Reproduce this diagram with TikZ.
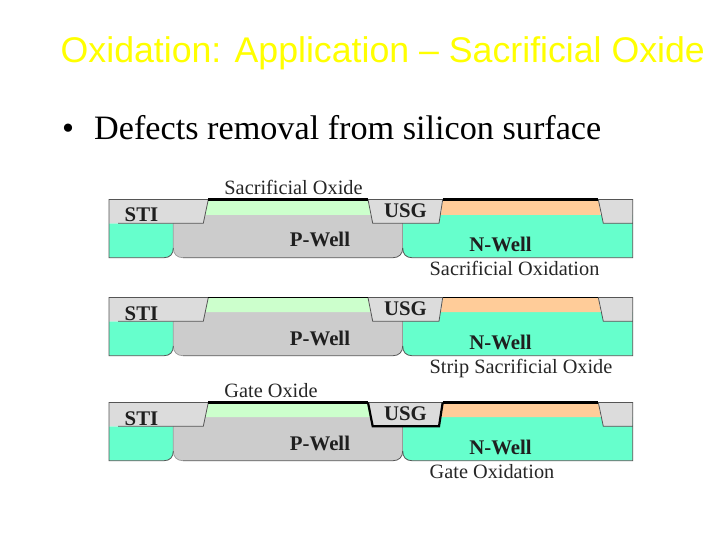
\documentclass[tikz,border=0pt]{standalone}
\usepackage{fontspec}
\setmainfont{Liberation Serif}
\newfontfamily\titlefont{Liberation Sans}
\definecolor{stigray}{HTML}{DCDCDC}
\definecolor{pwellgray}{HTML}{CCCCCC}
\definecolor{nwellgreen}{HTML}{66FFCC}
\definecolor{pchan}{HTML}{CCFFCC}
\definecolor{nchan}{HTML}{FFCC99}
\definecolor{edgegray}{HTML}{555555}
\definecolor{softedge}{HTML}{999999}
\tikzset{
  edgeline/.style={draw=edgegray,line width=0.8pt},
  softline/.style={draw=softedge,line width=0.7pt},
  oxideline/.style={draw=black,line width=2.2pt},
  wellfont/.style={font=\fontsize{20.8}{24}\selectfont\bfseries,inner sep=0pt,anchor=base,text=black!88},
  notefont/.style={font=\fontsize{20.3}{24}\selectfont,inner sep=0pt,anchor=base,text=black!85},
}
\newcommand{\crosssection}[3]{%
\begin{scope}[yshift=-#1pt]
  % wells
  \path[fill=nwellgreen] (109,223.3) -- (173.3,223.3) -- (173.3,248) .. controls (173.3,254) and (170,257.7) .. (164,257.7) -- (109,257.7) -- cycle;
  \path[fill=pwellgray] (173.3,#2) -- (402.7,#2) -- (402.7,248) .. controls (402.7,254) and (399,257.7) .. (393,257.7) -- (183,257.7) .. controls (177,257.7) and (173.3,254) .. (173.3,248) -- cycle;
  \path[fill=nwellgreen] (402.7,#2) -- (632.7,#2) -- (632.7,257.7) -- (412,257.7) .. controls (406,257.7) and (402.7,254) .. (402.7,248) -- cycle;
  % channels
  \path[fill=pchan] (208.3,199.5) -- (368,199.5) -- (370.5,#2) -- (205.5,#2) -- cycle;
  \path[fill=nchan] (442.7,199.5) -- (598.3,199.5) -- (600.5,#2) -- (441,#2) -- cycle;
  % STI
  \path[fill=stigray] (109,199.5) -- (208.3,199.5) -- (203.3,223.3) -- (109,223.3) -- cycle;
  \path[fill=stigray] (368,199.5) -- (442.7,199.5) -- (439,223.3) -- (372.7,223.3) -- cycle;
  \path[fill=stigray] (598.3,199.5) -- (632.7,199.5) -- (632.7,223.3) -- (603.3,223.3) -- cycle;
  % outlines
  \draw[softline] (173.3,223.3) -- (173.3,248) .. controls (173.3,254) and (177,257.7) .. (183,257.7);
  \draw[softline] (402.7,223.3) -- (402.7,248);
  \draw[edgeline] (208.3,199.5) -- (109,199.5) -- (109,257.7) -- (164,257.7) .. controls (170,257.7) and (173.3,254) .. (173.3,248);
  \draw[edgeline] (118,223.3) -- (203.3,223.3) -- (208.3,199.5);
  \draw[edgeline] (183,257.7) -- (393,257.7) .. controls (399,257.7) and (402.7,254) .. (402.7,248);
  \draw[edgeline] (402.7,248) .. controls (402.7,254) and (406,257.7) .. (412,257.7) -- (632.7,257.7) -- (632.7,199.5) -- (598.3,199.5) -- (603.3,223.3) -- (632.7,223.3);
  \draw[edgeline] (368,199.5) -- (372.7,223.3) -- (439,223.3) -- (442.7,199.5) -- cycle;
  \draw[draw=black,line width=0.6pt] (208.3,199.5) -- (368,199.5) (442.7,199.5) -- (598.3,199.5);
  % well and isolation labels
  \node[wellfont] (sti#3) at (141.5,222) {STI};
  \node[wellfont] (pw#3) at (320,247) {P-Well};
  \node[wellfont] (usg#3) at (405.5,217.7) {USG};
  \node[wellfont] (nw#3) at (500.5,251.7) {N-Well};
\end{scope}}
\begin{document}
\begin{tikzpicture}[x=1pt,y=-1pt]
\useasboundingbox[fill=white] (0,0) rectangle (720,540);
\node[font=\titlefont\fontsize{35.7}{40}\selectfont,text={rgb,255:red,255;green,255;blue,0},inner sep=0pt,anchor=base west] (title) at (60.5,63) {Oxidation: Application – Sacrificial Oxide};
\node[font=\fontsize{34.2}{38}\selectfont,inner sep=0pt,anchor=base west,text=black] (bullet) at (62,140) {•};
\node[font=\fontsize{34.2}{38}\selectfont,inner sep=0pt,anchor=base west,text=black] (head) at (94,140) {Defects removal from silicon surface};
\crosssection{0}{215}{a}
\crosssection{98}{214}{b}
\crosssection{203}{214}{c}
\draw[oxideline] (208.3,199.5) -- (368,199.5) (442.7,199.5) -- (598.3,199.5);
\draw[oxideline] (208.3,402.5) -- (368,402.5) (442.7,402.5) -- (598.3,402.5);
\draw[oxideline] (368,402.5) -- (372.7,426.3) -- (439,426.3) -- (442.7,402.5);
\node[notefont] (n1) at (293.5,194.6) {Sacrificial Oxide};
\node[notefont,anchor=base west] (n2) at (429.5,275.7) {Sacrificial Oxidation};
\node[notefont,anchor=base west] (n3) at (429.5,373.2) {Strip Sacrificial Oxide};
\node[notefont] (n4) at (271,397.2) {Gate Oxide};
\node[notefont,anchor=base west] (n5) at (429.5,478.4) {Gate Oxidation};
\end{tikzpicture}
\end{document}
